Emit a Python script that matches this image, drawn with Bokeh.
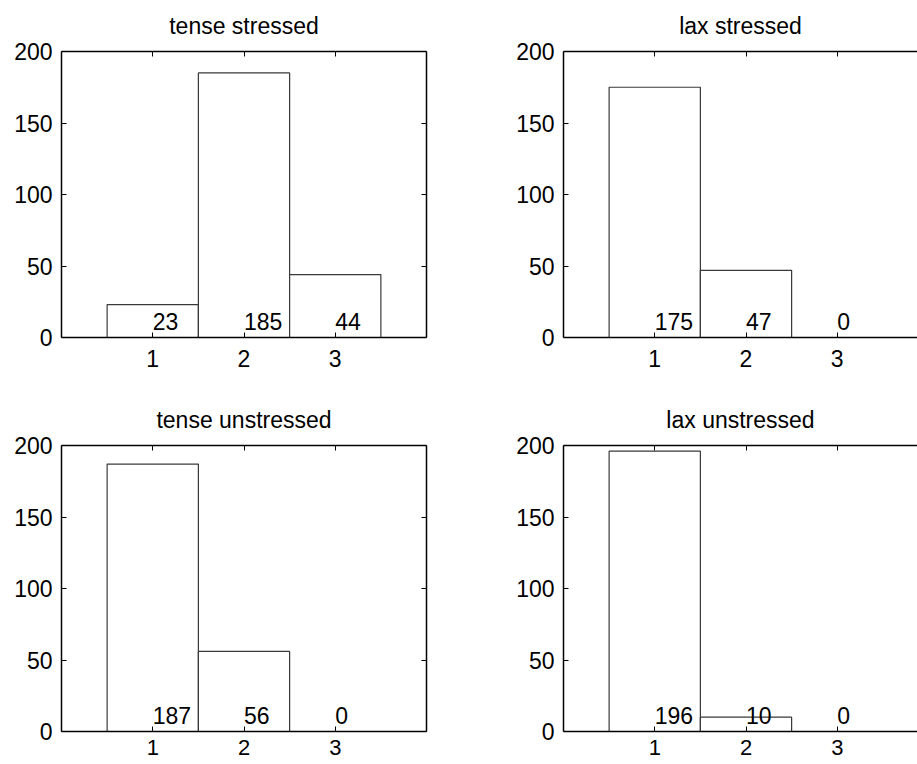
from bokeh.plotting import figure
from bokeh.layouts import column, row
from bokeh.models import Range1d, FixedTicker, LinearAxis, ColumnDataSource
from bokeh.core.properties import value
from bokeh.embed import file_html
from bokeh.resources import INLINE

# counts per category for each vowel group
categories = [1, 2, 3]
tense_stressed = [23, 185, 44]
lax_stressed = [175, 47, 0]
tense_unstressed = [187, 56, 0]
lax_unstressed = [196, 10, 0]

x_ticks = [1, 2, 3]
y_ticks = [0, 50, 100, 150, 200]
label_y = 11  # height at which the count labels sit

FONT = "Liberation Sans"
FS = "23px"
UNIT_PX = 91.25   # pixels per x unit
FRAME_H = 286

PAGE_TEMPLATE = """
{% block postamble %}
<style>html, body { margin: 0; padding: 0; overflow: hidden; }</style>
{% endblock %}
"""


def style_axis(ax, ticks, show_labels, standoff=9, size=FS):
    ax.ticker = FixedTicker(ticks=ticks)
    ax.axis_line_color = "black"
    ax.axis_line_width = 1.5
    ax.major_tick_line_color = "black"
    ax.major_tick_in = 5
    ax.major_tick_out = 0
    ax.minor_tick_line_color = None
    ax.major_label_text_font = FONT
    ax.major_label_text_color = "black"
    if show_labels:
        ax.major_label_text_font_size = size
        ax.major_label_standoff = standoff
    else:
        # frame edge with inward ticks only, no numbers
        ax.major_label_overrides = {t: "" for t in ticks}
        ax.major_label_text_font_size = "1px"
        ax.major_label_standoff = 0


def panel(title, counts, right_col, bottom_row):
    frame_w = 354 if right_col else 365
    x_end = frame_w / UNIT_PX if right_col else 4
    p = figure(
        frame_width=frame_w, frame_height=FRAME_H,
        x_range=Range1d(0, x_end), y_range=Range1d(0, 200),
        x_axis_location=None, y_axis_location=None,
        output_backend="svg", toolbar_location=None,
        min_border_left=103 if right_col else 61,
        min_border_right=0 if right_col else 34,
        min_border_top=51,
        min_border_bottom=33 if bottom_row else 57,
        background_fill_color="white", border_fill_color="white",
    )
    p.outline_line_color = None
    p.grid.visible = False

    p.title.text = title
    p.title.align = "center"
    p.title.vertical_align = "top"
    p.title.standoff = 22
    p.title.text_font = FONT
    p.title.text_font_size = FS
    p.title.text_font_style = "normal"
    p.title.text_color = "black"

    left = LinearAxis()
    style_axis(left, y_ticks, True)
    p.add_layout(left, "left")
    below = LinearAxis()
    if bottom_row:
        style_axis(below, x_ticks, True, standoff=8, size="22px")
    else:
        style_axis(below, x_ticks, True, standoff=12)
    p.add_layout(below, "below")
    above = LinearAxis()
    style_axis(above, x_ticks, False)
    p.add_layout(above, "above")
    if not right_col:
        right = LinearAxis()
        style_axis(right, y_ticks, False)
        p.add_layout(right, "right")

    src = ColumnDataSource(dict(
        x=categories,
        top=counts,
        label=[str(c) for c in counts],
        ly=[label_y] * len(counts),
    ))
    p.vbar(x="x", top="top", bottom=0, width=1, source=src,
           fill_color="white", line_color="#3a3a3a", line_width=1.2)
    p.text(x="x", y="ly", text="label", source=src,
           text_font=value(FONT), text_font_size=FS, text_color="black",
           text_align="left", text_baseline="middle")
    return p


p1 = panel("tense stressed", tense_stressed, False, False)
p2 = panel("lax stressed", lax_stressed, True, False)
p3 = panel("tense unstressed", tense_unstressed, False, True)
p4 = panel("lax unstressed", lax_unstressed, True, True)

layout = column(row(p1, p2), row(p3, p4))

with open("out.html", "w") as f:
    f.write(file_html(layout, INLINE, template=PAGE_TEMPLATE))
